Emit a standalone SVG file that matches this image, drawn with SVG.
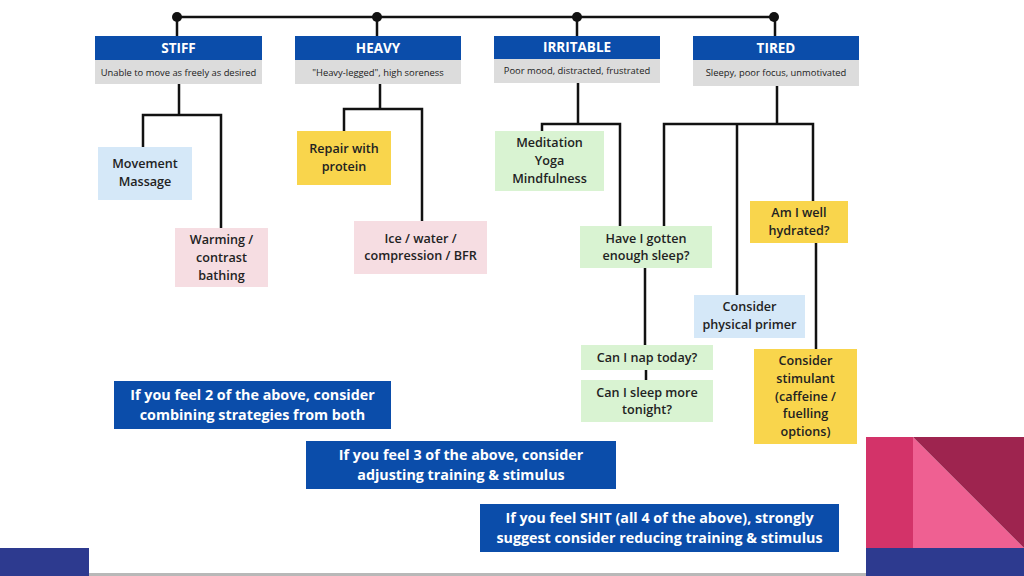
<svg xmlns="http://www.w3.org/2000/svg" width="1024" height="576" viewBox="0 0 1024 576">
<style>
.hd{fill:#0b4daa}
.sub{fill:#dcdcdc}
.ht{font-family:"Open Sans","Noto Sans",sans-serif;font-weight:700;font-size:13.5px;fill:#fff;text-anchor:middle}
.st{font-family:"Open Sans","Noto Sans",sans-serif;font-weight:400;font-size:9.4px;fill:#222;text-anchor:middle}
.bt{font-family:"Open Sans","Noto Sans",sans-serif;font-weight:600;font-size:12.6px;fill:#222;text-anchor:middle}
.ft{font-family:"Open Sans","Noto Sans",sans-serif;font-weight:700;font-size:14.3px;fill:#fff;text-anchor:middle}
.blue{fill:#d5e8f8}.pink{fill:#f6dde2}.yel{fill:#f9d54c}.grn{fill:#d9f3d2}.fb{fill:#0b4daa}
.ln{fill:none;stroke:#111;stroke-width:2.5}
</style>
<rect width="1024" height="576" fill="#fff"/>
<g id="decor">
<rect x="0" y="548" width="89" height="28" fill="#2d3a8f"/>
<rect x="89" y="573" width="777" height="3" fill="#b8b8b8"/>
<rect x="866" y="437" width="47" height="111" fill="#d33369"/>
<polygon points="913,437 1024,548 913,548" fill="#ef6092"/>
<polygon points="913,437 1024,437 1024,548" fill="#9e244f"/>
<rect x="866" y="548" width="158" height="28" fill="#2d3a8f"/>
</g>
<g id="connectors">
<path class="ln" d="M177,17 H774"/>
<circle cx="177" cy="17" r="5" fill="#111"/>
<circle cx="377" cy="17" r="5" fill="#111"/>
<circle cx="577" cy="17" r="5" fill="#111"/>
<circle cx="774" cy="17" r="5" fill="#111"/>
<path class="ln" d="M177,17 V36 M377,17 V36 M577,17 V36 M775,17 V36"/>
<path class="ln" d="M179,84 V115 M143,147 V115 H221 V228"/>
<path class="ln" d="M380,84 V109 M344,131 V109 H422 V221"/>
<path class="ln" d="M578,83 V124 M542,131 V124 H620 V226"/>
<path class="ln" d="M645,268 V346 M646,370 V380"/>
<path class="ln" d="M777,86 V124 M664,226 V124 H813 V201 M737,124 V295 M816,243 V349"/>
</g>
<g id="stiff">
<rect class="hd" x="95" y="36" width="167" height="24"/>
<rect class="sub" x="95" y="60" width="167" height="24"/>
<text class="ht" x="178.5" y="52.5">STIFF</text>
<text class="st" x="178.5" y="75.5">Unable to move as freely as desired</text>
</g>
<g id="heavy">
<rect class="hd" x="295" y="36" width="166" height="24"/>
<rect class="sub" x="295" y="60" width="166" height="24"/>
<text class="ht" x="378" y="52.5">HEAVY</text>
<text class="st" x="378" y="75.5">"Heavy-legged", high soreness</text>
</g>
<g id="irritable">
<rect class="hd" x="494" y="36" width="166" height="23"/>
<rect class="sub" x="494" y="59" width="166" height="24"/>
<text class="ht" x="577" y="52">IRRITABLE</text>
<text class="st" x="577" y="74">Poor mood, distracted, frustrated</text>
</g>
<g id="tired">
<rect class="hd" x="693" y="36" width="166" height="24"/>
<rect class="sub" x="693" y="60" width="166" height="26"/>
<text class="ht" x="776" y="52.5">TIRED</text>
<text class="st" x="776" y="76">Sleepy, poor focus, unmotivated</text>
</g>
<g id="movement">
<rect class="blue" x="98" y="147" width="94" height="53"/>
<text class="bt" x="145" y="168">Movement</text>
<text class="bt" x="145" y="186">Massage</text>
</g>
<g id="warming">
<rect class="pink" x="175" y="228" width="93" height="59"/>
<text class="bt" x="221.5" y="244">Warming /</text>
<text class="bt" x="221.5" y="262">contrast</text>
<text class="bt" x="221.5" y="280">bathing</text>
</g>
<g id="repair">
<rect class="yel" x="297" y="131" width="94" height="54"/>
<text class="bt" x="344" y="153">Repair with</text>
<text class="bt" x="344" y="171">protein</text>
</g>
<g id="ice">
<rect class="pink" x="354" y="221" width="133" height="53"/>
<text class="bt" x="420.5" y="243">Ice / water /</text>
<text class="bt" x="420.5" y="260">compression / BFR</text>
</g>
<g id="meditation">
<rect class="grn" x="495" y="131" width="109" height="60"/>
<text class="bt" x="549.5" y="147">Meditation</text>
<text class="bt" x="549.5" y="165">Yoga</text>
<text class="bt" x="549.5" y="183">Mindfulness</text>
</g>
<g id="sleep">
<rect class="grn" x="580" y="226" width="132" height="42"/>
<text class="bt" x="646" y="243">Have I gotten</text>
<text class="bt" x="646" y="260">enough sleep?</text>
</g>
<g id="nap">
<rect class="grn" x="581" y="345" width="132" height="25"/>
<text class="bt" x="647" y="362">Can I nap today?</text>
</g>
<g id="sleepmore">
<rect class="grn" x="581" y="380" width="132" height="42"/>
<text class="bt" x="647" y="397">Can I sleep more</text>
<text class="bt" x="647" y="414">tonight?</text>
</g>
<g id="hydrated">
<rect class="yel" x="750" y="201" width="98" height="42"/>
<text class="bt" x="799" y="217">Am I well</text>
<text class="bt" x="799" y="235">hydrated?</text>
</g>
<g id="primer">
<rect class="blue" x="694" y="295" width="111" height="43"/>
<text class="bt" x="749.5" y="311">Consider</text>
<text class="bt" x="749.5" y="329">physical primer</text>
</g>
<g id="stimulant">
<rect class="yel" x="754" y="349" width="103" height="95"/>
<text class="bt" x="805.5" y="365">Consider</text>
<text class="bt" x="805.5" y="383">stimulant</text>
<text class="bt" x="805.5" y="401">(caffeine /</text>
<text class="bt" x="805.5" y="418">fuelling</text>
<text class="bt" x="805.5" y="436">options)</text>
</g>
<g id="feel2">
<rect class="fb" x="114" y="381" width="277" height="48"/>
<text class="ft" x="252.5" y="400">If you feel 2 of the above, consider</text>
<text class="ft" x="252.5" y="420">combining strategies from both</text>
</g>
<g id="feel3">
<rect class="fb" x="306" y="441" width="310" height="48"/>
<text class="ft" x="461" y="460">If you feel 3 of the above, consider</text>
<text class="ft" x="461" y="480">adjusting training &amp; stimulus</text>
</g>
<g id="feel4">
<rect class="fb" x="480" y="504" width="359" height="48"/>
<text class="ft" x="659.5" y="523">If you feel SHIT (all 4 of the above), strongly</text>
<text class="ft" x="659.5" y="543">suggest consider reducing training &amp; stimulus</text>
</g>
</svg>
